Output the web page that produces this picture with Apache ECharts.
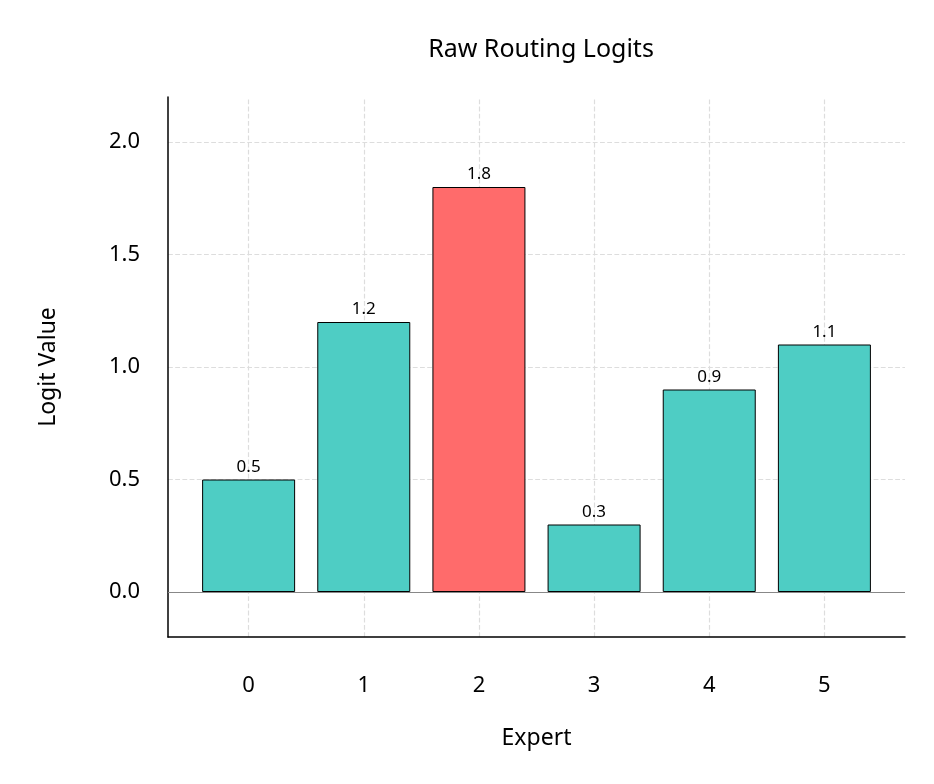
<!DOCTYPE html>
<html>
<head>
<meta charset="utf-8">
<script src="https://cdn.jsdelivr.net/npm/echarts@6/dist/echarts.min.js"></script>
<style>html,body{margin:0;padding:0;background:#fff}#main{width:934px;height:784px}</style>
</head>
<body>
<div id="main"></div>
<script>
var experts = [0, 1, 2, 3, 4, 5];
var logits = [0.5, 1.2, 1.8, 0.3, 0.9, 1.1];
var yTicks = [0, 0.5, 1.0, 1.5, 2.0];
var barColor = '#4ECDC4';
var topColor = '#FF6B6B';

var myChart = echarts.init(document.getElementById('main'));
var font = 'Noto Sans, DejaVu Sans, sans-serif';

var maxIdx = logits.indexOf(Math.max.apply(null, logits));
var barData = experts.map(function (e, i) {
    return { value: [e, logits[i]], itemStyle: { color: i == maxIdx ? topColor : barColor } };
});

// grid lines (dashed) at the major ticks
var gridLines = [];
yTicks.forEach(function (v) { gridLines.push({ yAxis: v }); });
experts.forEach(function (v) { gridLines.push({ xAxis: v }); });

function isMult(v, step) {
    return Math.abs(v / step - Math.round(v / step)) < 1e-6;
}

myChart.setOption({
    animation: false,
    title: {
        text: 'Raw Routing Logits',
        left: 536, top: 32, textAlign: 'center',
        textStyle: { fontFamily: font, fontSize: 25, fontWeight: 'normal', color: '#000' }
    },
    grid: { left: 168, right: 29, top: 97, bottom: 147 },
    xAxis: {
        type: 'value', min: -0.7, max: 5.7, interval: 0.1,
        name: 'Expert', nameLocation: 'middle', nameGap: 90,
        nameTextStyle: { fontFamily: font, fontSize: 23, color: '#000' },
        axisLine: { show: true, onZero: false, lineStyle: { color: '#000', width: 1.5 } },
        axisTick: { show: false },
        splitLine: { show: false },
        axisLabel: {
            fontFamily: font, fontSize: 22, color: '#000', margin: 38,
            formatter: function (v) { return isMult(v, 1) && v >= 0 && v <= 5 ? String(Math.round(v)) : ''; }
        }
    },
    yAxis: {
        type: 'value', min: -0.2, max: 2.2, interval: 0.1,
        name: 'Logit Value', nameLocation: 'middle', nameGap: 108, nameRotate: 90,
        nameTextStyle: { fontFamily: font, fontSize: 23, color: '#000' },
        axisLine: { show: true, onZero: false, lineStyle: { color: '#000', width: 1.5 } },
        axisTick: { show: false },
        splitLine: { show: false },
        axisLabel: {
            fontFamily: font, fontSize: 22, color: '#000', margin: 28,
            formatter: function (v) { return isMult(v, 0.5) && v >= 0 ? v.toFixed(1) : ''; }
        }
    },
    series: [{
        type: 'bar',
        barWidth: 93,
        data: barData,
        itemStyle: { borderColor: '#000', borderWidth: 1 },
        label: {
            show: true, position: 'top', distance: 4,
            fontFamily: font, fontSize: 17, color: '#000',
            formatter: function (p) { return String(p.value[1]); }
        },
        markLine: {
            silent: true, symbol: 'none', label: { show: false }, z: 0,
            lineStyle: { type: 'dashed', color: '#ddd', width: 1.2 },
            data: gridLines
        },
        z: 3
    }, {
        type: 'line', data: [],
        markLine: {
            silent: true, symbol: 'none', label: { show: false },
            lineStyle: { type: 'solid', color: '#888', width: 1.2 },
            data: [{ yAxis: 0 }]
        }
    }]
});
</script>
</body>
</html>
